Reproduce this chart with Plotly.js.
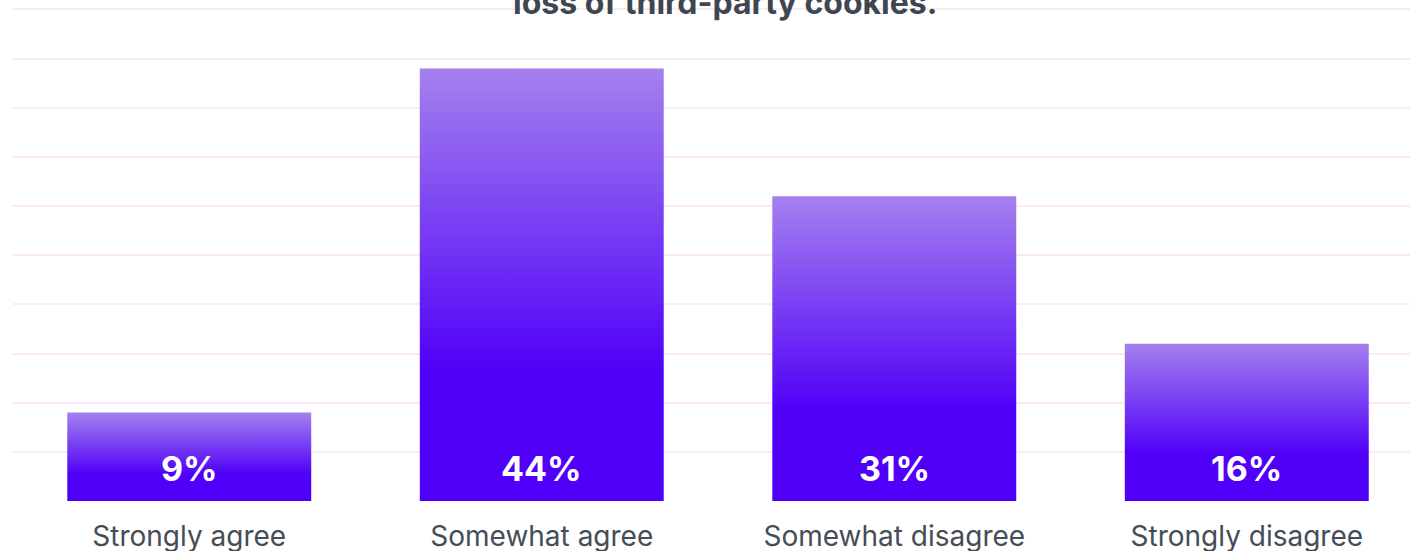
<!DOCTYPE html>
<html>
<head>
<meta charset="utf-8">
<script src="https://cdn.plot.ly/plotly-3.0.1.min.js"></script>
<style>
html,body{margin:0;padding:0;background:#fff;}
#chart{width:1410px;height:551px;}
</style>
</head>
<body>
<div id="chart"></div>
<svg width="0" height="0" style="position:absolute">
  <defs>
    <linearGradient id="barGrad" x1="0" y1="0" x2="0" y2="1">
      <stop offset="0" stop-color="#a481ee"/>
      <stop offset="0.7" stop-color="#5000f8"/>
      <stop offset="1" stop-color="#5000f8"/>
    </linearGradient>
  </defs>
</svg>
<script>
const categories = ["Strongly agree", "Somewhat agree", "Somewhat disagree", "Strongly disagree"];
const values = [9, 44, 31, 16];
const valueLabels = ["9%", "44%", "31%", "16%"];
const titleText = "loss of third-party cookies.";

const trace = {
  type: "bar",
  x: categories,
  y: values,
  width: 0.692,
  marker: {color: "#5000f8", line: {width: 0}},
  hoverinfo: "none"
};

const annotations = categories.map((c, i) => ({
  x: c, y: 0, xref: "x", yref: "y",
  text: valueLabels[i],
  showarrow: false,
  yanchor: "bottom",
  yshift: 10,
  font: {family: "Inter, 'Noto Sans', sans-serif", size: 34, color: "#ffffff", weight: 700}
}));
annotations.push({
  x: 0.51, y: 1, xref: "paper", yref: "paper",
  text: "<b>" + titleText + "</b>",
  showarrow: false,
  yanchor: "bottom",
  yshift: -16,
  font: {family: "Inter, 'Noto Sans', sans-serif", size: 32, color: "#3e4650"}
});

const layout = {
  width: 1410, height: 551,
  margin: {l: 13, r: 0, t: 8, b: 50},
  paper_bgcolor: "#ffffff",
  plot_bgcolor: "#ffffff",
  showlegend: false,
  xaxis: {
    type: "category",
    range: [-0.5, 3.463],
    showgrid: false, zeroline: false, showline: false,
    ticks: "",
    ticklabelstandoff: 16,
    tickfont: {family: "Inter, 'Noto Sans', sans-serif", size: 28, color: "#454d56"}
  },
  yaxis: {
    range: [0, 50.15], dtick: 5,
    showticklabels: false,
    gridcolor: "#fde9f6", gridwidth: 2,
    zeroline: false, showline: false
  },
  annotations: annotations
};

Plotly.newPlot("chart", [trace], layout, {displayModeBar: false, staticPlot: true}).then(() => {
  document.querySelectorAll("#chart .bars path").forEach(p => {
    p.style.fill = "url(#barGrad)";
  });
});
</script>
</body>
</html>
